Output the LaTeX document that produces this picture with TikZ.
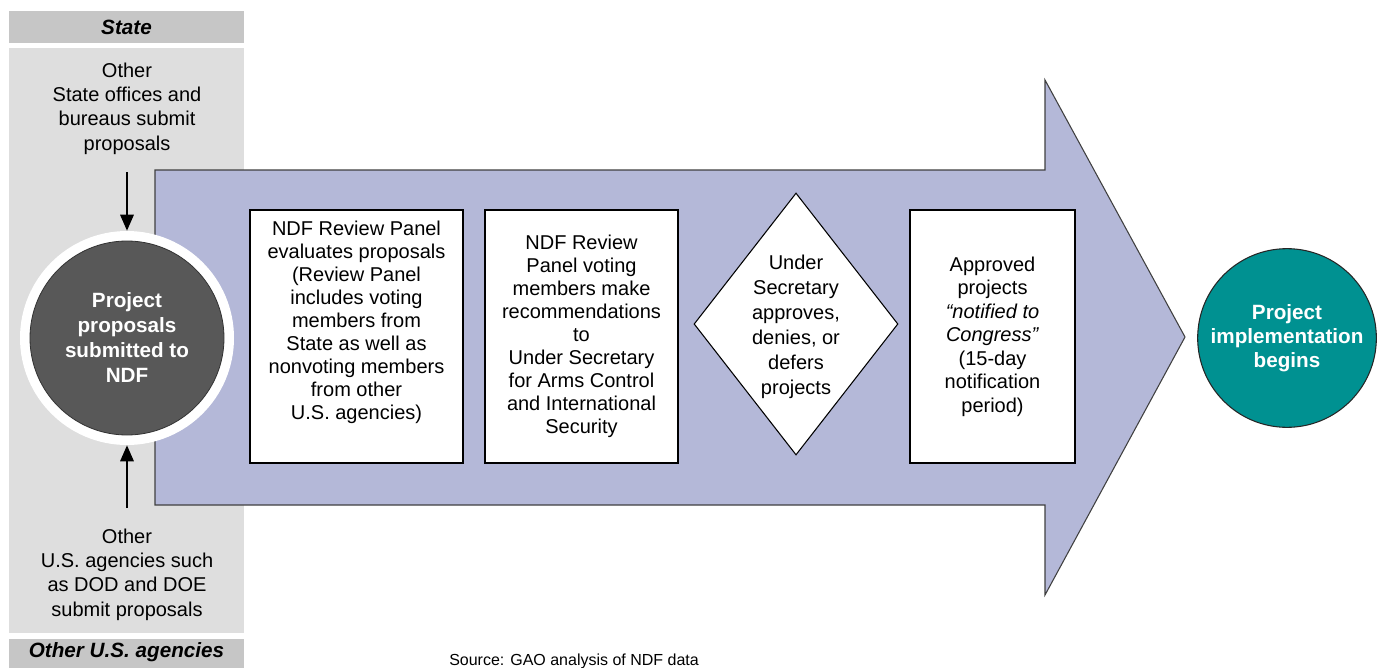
\documentclass[tikz,border=0pt]{standalone}
\usepackage{fontspec}
\setmainfont{Liberation Sans}
\usetikzlibrary{shapes.geometric,arrows.meta,calc}
\definecolor{hdrgray}{RGB}{198,198,198}
\definecolor{colgray}{RGB}{222,222,222}
\definecolor{lav}{RGB}{180,184,216}
\definecolor{darkc}{RGB}{88,88,88}
\definecolor{tealc}{RGB}{0,145,145}
\begin{document}
\begin{tikzpicture}[x=0.75pt,y=-0.75pt,
  txt/.style={align=center,inner sep=0pt,font=\fontsize{15}{17.25}\selectfont},
  sidetxt/.style={align=center,inner sep=0pt,font=\fontsize{15}{18.25}\selectfont},
  hdrtxt/.style={inner sep=0pt,anchor=base,font=\fontsize{15.5}{18}\selectfont\bfseries\itshape},
  stepbox/.style={draw=black,line width=1pt,fill=white,inner sep=0pt},
  flowarrow/.style={line width=1.6pt,-{Triangle[length=12pt,width=10pt]}},
  ]
\useasboundingbox (0,0) rectangle (1380,667);
% left column
\fill[hdrgray] (9,11) rectangle (244,43);
\fill[colgray] (9,48) rectangle (244,633);
\fill[hdrgray] (9,639) rectangle (244,675);
\node[hdrtxt] (hstate) at (126.5,35) {State};
\node[hdrtxt] (hother) at (126.5,657) {Other U.S. agencies};
% big arrow
\draw[fill=lav,draw=black!75,line width=0.8pt]
  (155,170) -- (1045,170) -- (1045,80) -- (1185,337) -- (1045,595) -- (1045,505) -- (155,505) -- cycle;
% side texts
\node[sidetxt] (stext) at (127,108.5) {Other\\State offices and\\bureaus submit\\proposals};
\node[sidetxt] (otext) at (127,574.5) {Other\\U.S. agencies such\\as DOD and DOE\\submit proposals};
% left circle
\node[circle,fill=white,minimum size=160.5pt,inner sep=0pt] (ring) at (127,338) {};
\node[circle,fill=darkc,draw=black!80,line width=0.6pt,minimum size=145.5pt,inner sep=0pt,
  text=white,align=center,font=\fontsize{15.5}{18.75}\selectfont\bfseries] (src) at (127,338)
  {Project\\proposals\\submitted to\\NDF};
\coordinate (a1) at (127,172);
\coordinate (a2) at (127,508);
\draw[flowarrow] (a1) -- (ring.north);
\draw[flowarrow] (a2) -- (ring.south);
% boxes
\node[stepbox,minimum width=159.75pt,minimum height=189.75pt] (b1) at (356.5,336.5) {};
\node[txt] (b1t) at (356.5,322.5) {NDF Review Panel\\evaluates proposals\\(Review Panel\\includes voting\\members from\\State as well as\\nonvoting members\\from other\\U.S. agencies)};
\node[stepbox,txt,minimum width=144.75pt,minimum height=189.75pt] (b2) at (581.5,336.5)
  {NDF Review\\Panel voting\\members make\\recommendations\\to\\Under Secretary\\for Arms Control\\and International\\Security};
\node[diamond,draw=black,line width=0.8pt,fill=white,minimum width=153pt,minimum height=196.5pt,inner sep=0pt] (dm) at (796,324) {};
\node[align=center,inner sep=0pt,font=\fontsize{15}{18.75}\selectfont] (dmt) at (796,327)
  {Under\\Secretary\\approves,\\denies, or\\defers\\projects};
\node[stepbox,align=center,font=\fontsize{15}{17.6}\selectfont,minimum width=123.75pt,minimum height=189.75pt] (b4) at (992.5,336.5)
  {Approved\\projects\\\textit{“notified to}\\\textit{Congress”}\\(15-day\\notification\\period)};
% right circle
\node[circle,fill=tealc,draw=black!85,line width=0.8pt,minimum size=134pt,inner sep=0pt,
  text=white,align=center,font=\fontsize{15.5}{18}\selectfont\bfseries] (impl) at (1287,338)
  {Project\\implementation\\begins};
% source
\node[anchor=base west,inner sep=0pt,font=\fontsize{12}{14}\selectfont] (src2) at (449,665) {Source: GAO analysis of NDF data};
\end{tikzpicture}
\end{document}
